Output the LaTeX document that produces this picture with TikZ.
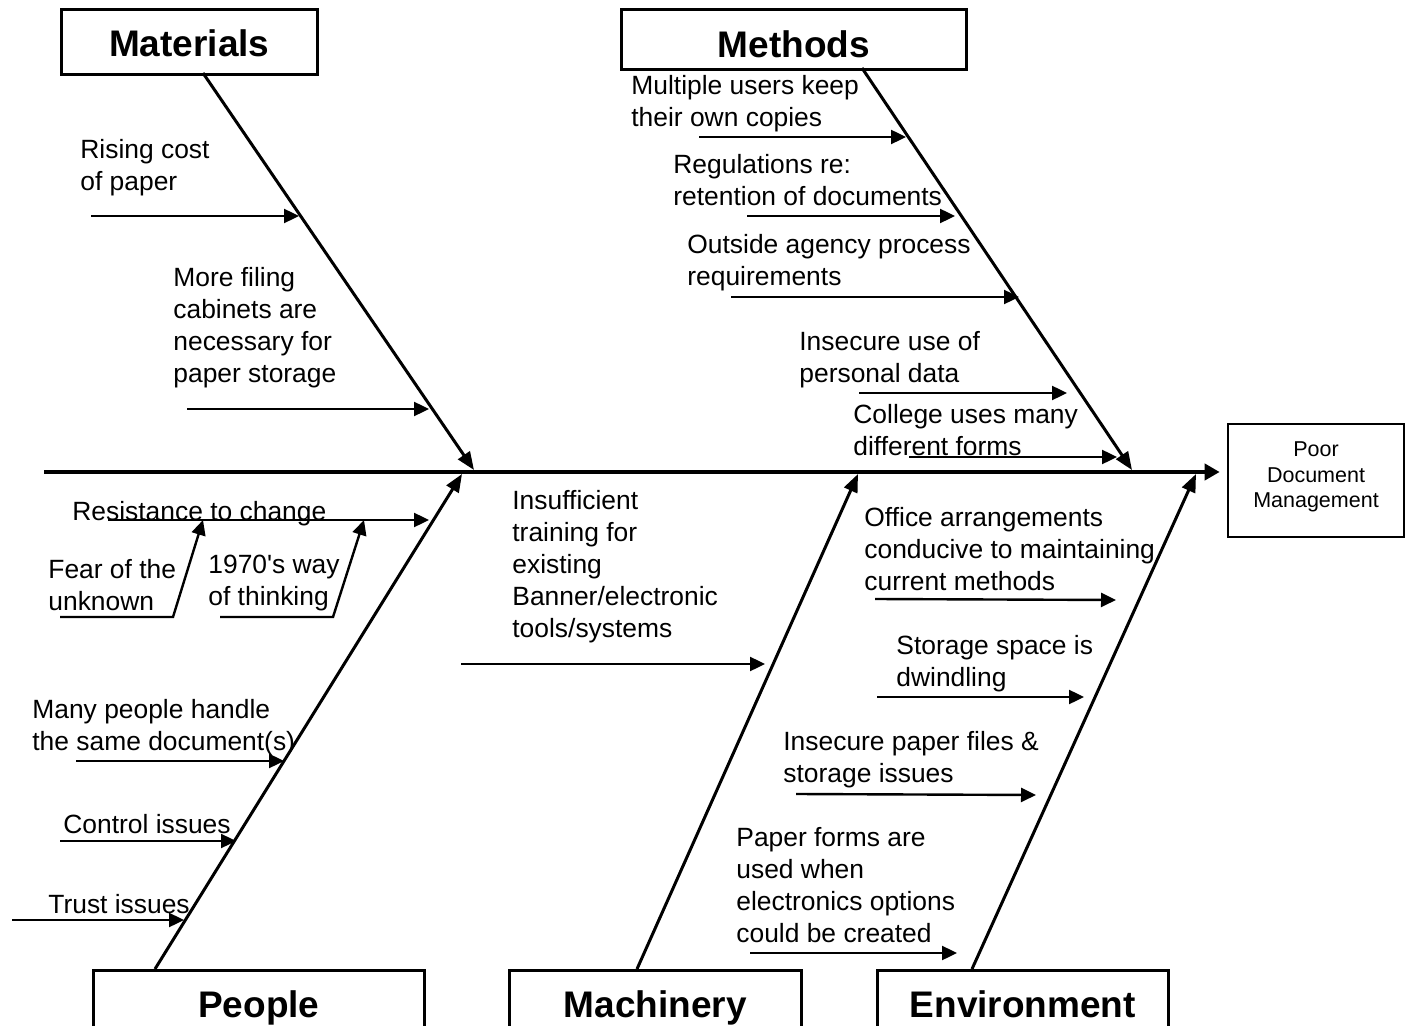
\documentclass[tikz,border=0pt]{standalone}
\usepackage{fontspec}
\setmainfont{Liberation Sans}[Ligatures=TeXOff]
\usetikzlibrary{arrows.meta}
\begin{document}
\begin{tikzpicture}[x=0.5pt,y=-0.5pt,
  lbl/.style={anchor=north west, inner sep=0pt, align=left,
    font=\fontsize{13.2pt}{16pt}\selectfont, execute at begin node=\strut},
  tbox/.style={draw, line width=1.3pt, inner sep=0pt, anchor=north west,
    font=\fontsize{18.5pt}{21pt}\selectfont\bfseries, text depth=0pt},
  effect/.style={draw, line width=1.3pt, inner sep=0pt, align=center,
    minimum width=88pt, minimum height=56.5pt,
    font=\fontsize{10.75pt}{12.75pt}\selectfont},
  spine/.style={line width=2pt, -{Triangle[length=7.5pt,width=8pt]}},
  bone/.style={line width=1.5pt, -{Triangle[length=9pt,width=7pt]}},
  sub/.style={line width=1.2pt, -{Triangle[length=7.5pt,width=7pt]}}
]
\clip (0,0) rectangle (1408,1026);

% category boxes
\node[tbox, minimum width=128pt, minimum height=32.5pt, text height=15.2pt] (mat) at (60,8) {Materials};
\node[tbox, minimum width=172.5pt, minimum height=30pt, text height=18.2pt] (met) at (620,8) {Methods};
\node[tbox, minimum width=165.5pt, minimum height=34pt, text height=12.7pt] (peo) at (92,969) {People};
\node[tbox, minimum width=146pt, minimum height=34pt, text height=12.7pt] (mac) at (508,969) {Machinery};
\node[tbox, minimum width=145.5pt, minimum height=34pt, text height=12.7pt] (env) at (876,969) {Environment};

% effect
\node[effect] (eff) at (1316,480.5) {Poor\\Document\\Management\rule[-5.8pt]{0pt}{5.8pt}};

% spine
\coordinate (spL) at (44,472);
\draw[spine, shorten >=3.5pt] (spL) -- (spL -| eff.west);

% bones
\coordinate (matB) at (203,73);   \coordinate (matT) at (474,470);
\coordinate (metB) at (862,68);   \coordinate (metT) at (1132,470);
\coordinate (peoB) at (155,969);  \coordinate (peoT) at (462,474);
\coordinate (macB) at (637,969);  \coordinate (macT) at (858,474);
\coordinate (envB) at (972,969);  \coordinate (envT) at (1196,474);
\draw[bone] (matB) -- (matT);
\draw[bone] (metB) -- (metT);
\draw[bone] (peoB) -- (peoT);
\draw[bone] (macB) -- (macT);
\draw[bone] (envB) -- (envT);

% Materials causes
\node[lbl] (rc) at (80,138.5) {Rising cost\\of paper};
\node[lbl] (mf) at (173,266.5) {More filing\\cabinets are\\necessary for\\paper storage};
\coordinate (rcS) at (91,216);  \coordinate (rcE) at (299,216);
\coordinate (mfS) at (187,409); \coordinate (mfE) at (429,409);
\draw[sub] (rcS) -- (rcE);
\draw[sub] (mfS) -- (mfE);

% Methods causes
\node[lbl] (mu) at (631,74.5) {Multiple users keep\\their own copies};
\node[lbl] (rr) at (673,153.5) {Regulations re:\\retention of documents};
\node[lbl] (oa) at (687,233.5) {Outside agency process\\requirements};
\node[lbl] (iu) at (799,330.5) {Insecure use of\\personal data};
\node[lbl] (cu) at (853,403.5) {College uses many\\different forms};
\coordinate (muS) at (699,137);  \coordinate (muE) at (906,137);
\coordinate (rrS) at (747,216);  \coordinate (rrE) at (955,216);
\coordinate (oaS) at (731,297);  \coordinate (oaE) at (1019,297);
\coordinate (iuS) at (859,393);  \coordinate (iuE) at (1067,393);
\coordinate (cuS) at (909,457);  \coordinate (cuE) at (1117,457);
\draw[sub] (muS) -- (muE);
\draw[sub] (rrS) -- (rrE);
\draw[sub] (oaS) -- (oaE);
\draw[sub] (iuS) -- (iuE);
\draw[sub] (cuS) -- (cuE);

% People causes
\node[lbl] (rt) at (72,497.5) {Resistance to change};
\node[lbl] (fu) at (48,558.5) {Fear of the\\unknown};
\node[lbl] (nt) at (208,554.5) {1970's way\\of thinking};
\node[lbl] (mp) at (32,698.5) {Many people handle\\the same document(s)};
\node[lbl] (ci) at (63,810.5) {Control issues};
\node[lbl] (ti) at (48,890.5) {Trust issues};
\coordinate (rtS) at (108,520);  \coordinate (rtE) at (429,520);
\coordinate (fuS) at (60,617);   \coordinate (fuK) at (173,617);  \coordinate (fuE) at (203,520);
\coordinate (ntS) at (220,617);  \coordinate (ntK) at (333,617);  \coordinate (ntE) at (364,520);
\coordinate (mpS) at (76,761);   \coordinate (mpE) at (284,761);
\coordinate (ciS) at (60,841);   \coordinate (ciE) at (236,841);
\coordinate (tiS) at (12,920);   \coordinate (tiE) at (184,920);
\draw[sub] (rtS) -- (rtE);
\draw[sub] (fuS) -- (fuK) -- (fuE);
\draw[sub] (ntS) -- (ntK) -- (ntE);
\draw[sub] (mpS) -- (mpE);
\draw[sub] (ciS) -- (ciE);
\draw[sub] (tiS) -- (tiE);

% Machinery cause
\node[lbl] (it) at (512,489.5) {Insufficient\\training for\\existing\\Banner/electronic\\tools/systems};
\coordinate (itS) at (461,664);  \coordinate (itE) at (765,664);
\draw[sub] (itS) -- (itE);

% Environment causes
\node[lbl] (oc) at (864,506.5) {Office arrangements\\conducive to maintaining\\current methods};
\node[lbl] (ss) at (896,634.5) {Storage space is\\dwindling};
\node[lbl] (ip) at (783,730.5) {Insecure paper files \&\\storage issues};
\node[lbl] (pf) at (736,826.5) {Paper forms are\\used when\\electronics options\\could be created};
\coordinate (ocS) at (875,599);  \coordinate (ocE) at (1116,600);
\coordinate (ssS) at (877,697);  \coordinate (ssE) at (1084,697);
\coordinate (ipS) at (796,794);  \coordinate (ipE) at (1036,795);
\coordinate (pfS) at (750,953);  \coordinate (pfE) at (957,953);
\draw[sub] (ocS) -- (ocE);
\draw[sub] (ssS) -- (ssE);
\draw[sub] (ipS) -- (ipE);
\draw[sub] (pfS) -- (pfE);
\end{tikzpicture}
\end{document}
